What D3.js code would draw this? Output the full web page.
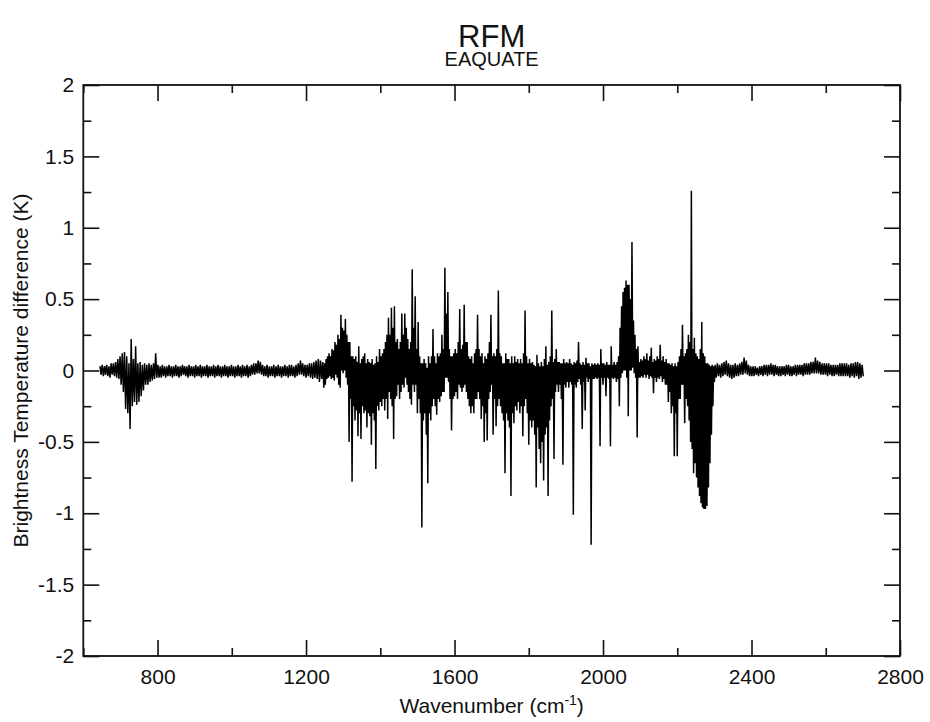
<!DOCTYPE html>
<html><head><meta charset="utf-8">
<script src="https://cdn.jsdelivr.net/npm/d3@7"></script>
<style>
body{margin:0;background:#fff}
text{font-family:"Liberation Sans",Arial,Helvetica,sans-serif;fill:#111}
</style>
</head><body>
<svg id="c" width="930" height="722"></svg>
<script>
// ---- data ----
const title = "RFM";
const subtitle = "EAQUATE";
const xLabel = "Wavenumber (cm";
const yLabel = "Brightness Temperature difference (K)";
const xMajorTicks = [800, 1200, 1600, 2000, 2400, 2800];
const xMinorTicks = [600, 1000, 1400, 1800, 2200, 2600];
const yMajorTicks = [-2, -1.5, -1, -0.5, 0, 0.5, 1, 1.5, 2];
const yMinorTicks = [-1.75, -1.25, -0.75, -0.25, 0.25, 0.75, 1.25, 1.75];

// Spectrum given per wavenumber bin: highest and lowest value reached in the bin.
// bin wavenumber = start + step * index
const lowBandHi = [
 0.03,0.04,0.03,0.04,0.03,0.05,0.05,0.06,0.08,0.1,
 0.12,0.13,0.1,0.05,0.22,0.08,0.17,0.05,0.06,0.04,
 0.05,0.04,0.05,0.04,0.05,0.12,0.04,0.03,0.04,0.03,
 0.03,0.04,0.03,0.03,0.04,0.03,0.03,0.04,0.03,0.03,
 0.04,0.03,0.03,0.04,0.03,0.04,0.03,0.03,0.04,0.03,
 0.03,0.04,0.03,0.04,0.03,0.03,0.04,0.03,0.03,0.04,
 0.03,0.03,0.04,0.03,0.04,0.03,0.04,0.03,0.04,0.05,
 0.05,0.07,0.06,0.04,0.03,0.04,0.03,0.03,0.04,0.03,
 0.04,0.03,0.03,0.04,0.03,0.04,0.04,0.03,0.04,0.05,
 0.07,0.05,0.04,0.04,0.05,0.05,0.06,0.07,0.08,0.07,
 0.06 ];
const lowBandLo = [
 -0.03,-0.04,-0.03,-0.04,-0.05,-0.03,-0.04,-0.05,-0.06,-0.1,
 -0.15,-0.27,-0.3,-0.41,-0.25,-0.22,-0.24,-0.22,-0.18,-0.14,
 -0.1,-0.1,-0.08,-0.07,-0.06,-0.05,-0.05,-0.05,-0.04,-0.05,
 -0.04,-0.04,-0.05,-0.04,-0.04,-0.05,-0.04,-0.03,-0.04,-0.05,
 -0.04,-0.04,-0.05,-0.04,-0.04,-0.05,-0.04,-0.04,-0.05,-0.04,
 -0.04,-0.05,-0.04,-0.04,-0.05,-0.04,-0.04,-0.05,-0.04,-0.04,
 -0.05,-0.04,-0.04,-0.05,-0.04,-0.04,-0.05,-0.04,-0.03,-0.03,
 -0.02,-0.02,-0.03,-0.04,-0.04,-0.05,-0.04,-0.04,-0.05,-0.04,
 -0.04,-0.05,-0.04,-0.04,-0.05,-0.04,-0.04,-0.05,-0.04,-0.03,
 -0.03,-0.04,-0.05,-0.04,-0.05,-0.06,-0.05,-0.06,-0.08,-0.06,
 -0.12 ];

const bandAHi = [
 0.05,0.08,0.1,0.12,0.1,0.15,0.14,0.2,0.18,0.25,
 0.22,0.39,0.3,0.28,0.36,0.25,0.2,0.2,0.1,0.1,
 0.08,0.1,0.06,0.17,0.05,0.08,0.1,0.12,0.05,0.08,
 0.06,0.05,0.08,0.04,0.05,0.1,0.06,0.15,0.1,0.12,
 0.15,0.2,0.25,0.37,0.25,0.44,0.3,0.45,0.2,0.22,
 0.15,0.2,0.4,0.25,0.4,0.3,0.22,0.15,0.2,0.71,
 0.3,0.52,0.15,0.34,0.1,0.05,0.05,0.08,0.05,0.02,
 0.1,0.05,0.1,0.29,0.1,0.05,0.12,0.1,0.12,0.25,
 0.15,0.72,0.4,0.55,0.15,0.1,0.1,0.12 ];
const bandALo = [
 -0.1,-0.06,-0.05,-0.04,-0.06,-0.05,-0.07,-0.03,-0.05,-0.1,
 -0.12,0.0,-0.02,0.0,-0.05,-0.1,-0.5,-0.2,-0.78,-0.25,
 -0.35,-0.28,-0.46,-0.3,-0.48,-0.25,-0.3,-0.28,-0.4,-0.3,
 -0.32,-0.52,-0.3,-0.35,-0.69,-0.25,-0.28,-0.22,-0.25,-0.2,
 -0.28,-0.2,-0.34,-0.15,-0.2,-0.25,-0.48,-0.2,-0.18,-0.1,
 -0.2,-0.15,-0.1,-0.12,-0.05,-0.1,-0.15,-0.2,-0.24,-0.1,
 -0.15,-0.1,-0.3,-0.2,-0.3,-1.1,-0.35,-0.3,-0.45,-0.79,
 -0.3,-0.35,-0.25,-0.2,-0.25,-0.31,-0.2,-0.22,-0.18,-0.15,
 -0.15,-0.05,-0.05,-0.08,-0.2,-0.42,-0.2,-0.18 ];

const bandBHi = [
 0.15,0.12,0.2,0.43,0.15,0.18,0.46,0.2,0.2,0.1,
 0.08,0.1,0.05,0.12,0.15,0.39,0.15,0.1,0.12,0.05,
 0.1,0.08,0.12,0.2,0.39,0.1,0.12,0.1,0.15,0.56,
 0.12,0.1,0.05,0.05,0.12,0.08,0.08,0.05,0.1,0.05,
 0.1,0.06,0.08,0.05,0.08,0.05,0.12,0.42,0.1,0.05,
 0.08,0.05,0.06,0.04,0.03,0.11,0.05,0.03,0.06,0.03,
 0.08,0.17,0.04,0.06,0.1,0.42,0.06,0.08,0.15,0.06,
 0.06,0.05,0.05,0.08,0.05,0.06,0.05,0.08,0.05,0.04,
 0.06,0.05,0.07,0.2,0.05,0.04,0.06,0.04,0.09,0.05,
 0.05,0.03,0.05,0.04,0.05,0.04,0.05,0.04,0.15,0.05 ];
const bandBLo = [
 -0.15,-0.2,-0.1,-0.12,-0.15,-0.12,-0.1,-0.15,-0.2,-0.25,
 -0.3,-0.25,-0.3,-0.2,-0.2,-0.15,-0.2,-0.34,-0.25,-0.5,
 -0.3,-0.49,-0.2,-0.15,-0.1,-0.45,-0.2,-0.39,-0.25,-0.2,
 -0.25,-0.3,-0.35,-0.72,-0.3,-0.35,-0.4,-0.88,-0.3,-0.37,
 -0.25,-0.28,-0.22,-0.3,-0.25,-0.46,-0.25,-0.2,-0.3,-0.52,
 -0.35,-0.4,-0.35,-0.45,-0.82,-0.4,-0.55,-0.65,-0.5,-0.77,
 -0.45,-0.4,-0.88,-0.35,-0.25,-0.2,-0.62,-0.15,-0.1,-0.15,
 -0.1,-0.2,-0.66,-0.1,-0.12,-0.08,-0.12,-0.08,-0.1,-1.01,
 -0.1,-0.12,-0.08,-0.06,-0.1,-0.41,-0.08,-0.28,-0.05,-0.08,
 -0.06,-1.22,-0.06,-0.06,-0.05,-0.06,-0.05,-0.53,-0.05,-0.1 ];

const bandCHi = [
 0.05,0.04,0.06,0.04,0.04,0.17,0.04,0.06,0.04,0.06,
 0.1,0.3,0.45,0.55,0.58,0.63,0.6,0.6,0.5,0.9,
 0.35,0.25,0.15,0.17,0.06,0.08,0.07,0.1,0.08,0.12,
 0.07,0.1,0.16,0.06,0.08,0.07,0.1,0.08,0.18,0.07,
 0.1,0.06,0.08,0.05,0.05,0.04,0.05,0.03,0.05,0.03,
 0.06,0.1,0.15,0.32,0.1,0.12,0.15,0.25,0.2,1.26,
 0.15,0.23,0.12,0.1,0.08,0.15,0.34,0.12,0.1,0.05,
 0.05,0.04,0.03,0.04,0.03 ];
const bandCLo = [
 -0.05,-0.18,-0.05,-0.06,-0.53,-0.05,-0.06,-0.05,-0.08,-0.06,
 -0.25,-0.05,-0.02,0.0,0.0,-0.05,-0.32,0.0,0.0,0.02,
 -0.02,-0.05,-0.47,-0.05,-0.05,-0.04,-0.05,-0.03,-0.05,-0.03,
 -0.06,-0.04,-0.05,-0.16,-0.05,-0.08,-0.05,-0.06,-0.04,-0.08,
 -0.06,-0.1,-0.1,-0.22,-0.15,-0.3,-0.25,-0.6,-0.3,-0.6,
 -0.2,-0.2,-0.1,-0.1,-0.37,-0.2,-0.25,-0.35,-0.5,-0.55,
 -0.72,-0.65,-0.75,-0.82,-0.88,-0.93,-0.96,-0.97,-0.97,-0.95,
 -0.82,-0.65,-0.45,-0.25,-0.08 ];

const highBandHi = [
 0.04,0.05,0.04,0.05,0.06,0.07,0.05,0.04,0.04,0.05,
 0.04,0.05,0.06,0.09,0.07,0.04,0.03,0.03,0.03,0.02,
 0.03,0.03,0.04,0.04,0.04,0.05,0.04,0.04,0.03,0.03,
 0.03,0.03,0.04,0.04,0.03,0.03,0.04,0.04,0.04,0.04,
 0.05,0.05,0.05,0.06,0.06,0.09,0.07,0.06,0.05,0.05,
 0.05,0.05,0.04,0.04,0.04,0.04,0.05,0.05,0.05,0.05,
 0.04,0.05,0.05,0.06,0.06,0.05,0.04 ];
const highBandLo = [
 -0.05,-0.04,-0.05,-0.04,-0.03,-0.04,-0.05,-0.06,-0.05,-0.04,
 -0.04,-0.03,-0.03,-0.02,-0.03,-0.04,-0.04,-0.04,-0.03,-0.04,
 -0.03,-0.04,-0.03,-0.04,-0.03,-0.03,-0.04,-0.03,-0.04,-0.04,
 -0.03,-0.04,-0.03,-0.04,-0.04,-0.03,-0.04,-0.03,-0.03,-0.04,
 -0.03,-0.03,-0.03,-0.02,-0.02,-0.02,-0.02,-0.03,-0.03,-0.03,
 -0.04,-0.03,-0.04,-0.04,-0.03,-0.04,-0.04,-0.04,-0.04,-0.04,
 -0.05,-0.04,-0.05,-0.04,-0.06,-0.05,-0.04 ];

const segments = [
  { start: 645,  step: 6, hi: lowBandHi,  lo: lowBandLo },
  { start: 1250, step: 4, hi: bandAHi,    lo: bandALo },
  { start: 1602, step: 4, hi: bandBHi,    lo: bandBLo },
  { start: 2002, step: 4, hi: bandCHi,    lo: bandCLo },
  { start: 2302, step: 6, hi: highBandHi, lo: highBandLo }
];

// ---- drawing ----
const svg = d3.select("#c");
const L = 83.3, R = 900, T = 85, B = 656;
const x = d3.scaleLinear().domain([600, 2800]).range([L, R]);
const y = d3.scaleLinear().domain([-2, 2]).range([B, T]);

const pts = [];
segments.forEach(s => s.hi.forEach((h, i) => {
  const w = s.start + s.step * i;
  pts.push({ w: w, v: h });
  pts.push({ w: w + s.step / 2, v: s.lo[i] });
}));

svg.append("defs").append("clipPath").attr("id", "clip")
  .append("rect").attr("x", L).attr("y", T).attr("width", R - L).attr("height", B - T);

svg.append("path").datum(pts)
  .attr("clip-path", "url(#clip)")
  .attr("fill", "none").attr("stroke", "#000").attr("stroke-width", 1.5)
  .attr("stroke-linejoin", "bevel")
  .attr("d", d3.line().x(d => x(d.w)).y(d => y(d.v)));

const fmt = d => String(d);
function styleAxis(g) {
  g.select(".domain").remove();
  g.selectAll(".tick line").attr("stroke", "#111").attr("stroke-width", 1.6);
  g.selectAll(".tick text").attr("font-size", 21).attr("fill", "#111")
    .attr("font-family", '"Liberation Sans",Arial,sans-serif');
}
// bottom
svg.append("g").attr("transform", `translate(0,${B})`)
  .call(d3.axisBottom(x).tickValues(xMajorTicks).tickFormat(fmt).tickSize(-16).tickPadding(13))
  .call(styleAxis);
svg.append("g").attr("transform", `translate(0,${B})`)
  .call(d3.axisBottom(x).tickValues(xMinorTicks).tickFormat("").tickSize(-8)).call(styleAxis);
// top
svg.append("g").attr("transform", `translate(0,${T})`)
  .call(d3.axisTop(x).tickValues(xMajorTicks).tickFormat("").tickSize(-16)).call(styleAxis);
svg.append("g").attr("transform", `translate(0,${T})`)
  .call(d3.axisTop(x).tickValues(xMinorTicks).tickFormat("").tickSize(-8)).call(styleAxis);
// left
svg.append("g").attr("transform", `translate(${L},0)`)
  .call(d3.axisLeft(y).tickValues(yMajorTicks).tickFormat(fmt).tickSize(-16).tickPadding(9))
  .call(styleAxis);
svg.append("g").attr("transform", `translate(${L},0)`)
  .call(d3.axisLeft(y).tickValues(yMinorTicks).tickFormat("").tickSize(-8)).call(styleAxis);
// right
svg.append("g").attr("transform", `translate(${R},0)`)
  .call(d3.axisRight(y).tickValues(yMajorTicks).tickFormat("").tickSize(-16)).call(styleAxis);
svg.append("g").attr("transform", `translate(${R},0)`)
  .call(d3.axisRight(y).tickValues(yMinorTicks).tickFormat("").tickSize(-8)).call(styleAxis);

// frame
svg.append("rect").attr("x", L).attr("y", T).attr("width", R - L).attr("height", B - T)
  .attr("fill", "none").attr("stroke", "#111").attr("stroke-width", 1.8);

const cx = (L + R) / 2;
svg.append("text").attr("x", cx).attr("y", 47).attr("text-anchor", "middle")
  .attr("font-size", 31).text(title);
svg.append("text").attr("x", cx).attr("y", 66).attr("text-anchor", "middle")
  .attr("font-size", 20).text(subtitle);

const xt = svg.append("text").attr("x", cx).attr("y", 713).attr("text-anchor", "middle")
  .attr("font-size", 21);
xt.append("tspan").text(xLabel);
xt.append("tspan").attr("font-size", 14).attr("dy", -8).text("-1");
xt.append("tspan").attr("dy", 8).text(")");

svg.append("text").attr("transform", `translate(28,${(T + B) / 2}) rotate(-90)`)
  .attr("text-anchor", "middle").attr("font-size", 21).text(yLabel);
</script>
</body></html>
